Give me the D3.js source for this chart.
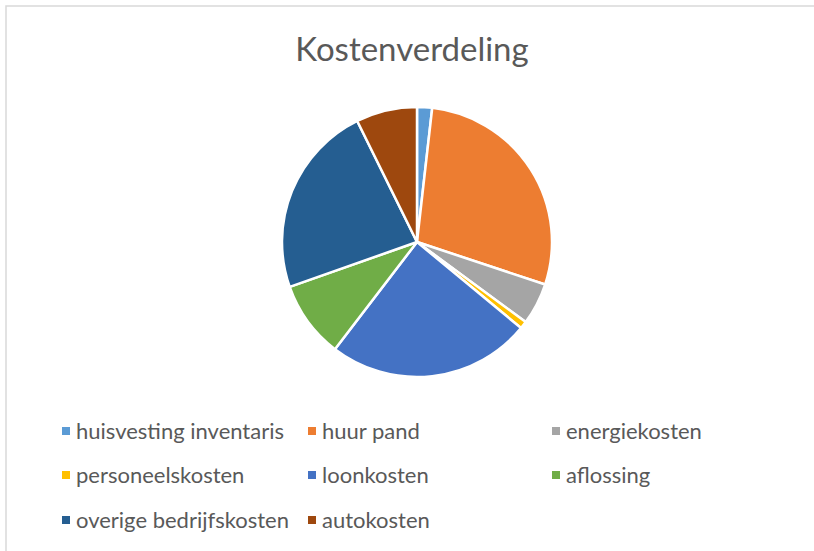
<!DOCTYPE html>
<html lang="nl">
<head>
<meta charset="UTF-8">
<title>Kostenverdeling</title>
<script src="https://d3js.org/d3.v7.min.js"></script>
<style>
  body { margin: 0; background: #fff; }
  svg text { font-family: Lato, "Open Sans", sans-serif; fill: #595959; }
</style>
</head>
<body>
<div id="chart"></div>
<script>
// cost categories and their share (in %)
const categories = ["huisvesting inventaris", "huur pand", "energiekosten", "personeelskosten",
                    "loonkosten", "aflossing", "overige bedrijfskosten", "autokosten"];
const values = [1.8, 28.3, 5.0, 0.9, 24.4, 9.2, 23.1, 7.3];
const colors = ["#5B9BD5", "#ED7D31", "#A5A5A5", "#FFC000", "#4472C4", "#70AD47", "#255E91", "#9E480E"];

const width = 814, height = 551;
const cx = 417, cy = 242, radius = 135;

const svg = d3.select("#chart").append("svg")
    .attr("width", width)
    .attr("height", height);

// chart area border (only top and left are visible in the frame)
svg.append("rect")
    .attr("x", 6).attr("y", 6)
    .attr("width", width + 10).attr("height", height + 10)
    .attr("fill", "#fff")
    .attr("stroke", "#d9d9d9")
    .attr("stroke-width", 1.5);

svg.append("text")
    .attr("x", 412).attr("y", 61)
    .attr("text-anchor", "middle")
    .attr("font-size", 33)
    .text("Kostenverdeling");

const pie = d3.pie().value(d => d.value).sort(null);
const arc = d3.arc().innerRadius(0).outerRadius(radius);
const data = categories.map((c, i) => ({ name: c, value: values[i], color: colors[i] }));

svg.append("g")
    .attr("transform", `translate(${cx},${cy})`)
    .selectAll("path")
    .data(pie(data))
    .join("path")
    .attr("d", arc)
    .attr("fill", d => d.data.color)
    .attr("stroke", "#fff")
    .attr("stroke-width", 2.5)
    .attr("stroke-linejoin", "round");

// legend: 3 columns, 3 rows
const colX = [62, 308, 552];
const rowY = [431, 475, 520];
const legend = svg.append("g")
    .selectAll("g")
    .data(data)
    .join("g")
    .attr("transform", (d, i) => `translate(${colX[i % 3]},${rowY[Math.floor(i / 3)]})`);

legend.append("rect")
    .attr("x", 0).attr("y", -4)
    .attr("width", 8).attr("height", 8)
    .attr("fill", d => d.color);

legend.append("text")
    .attr("x", 14).attr("y", 0)
    .attr("dy", "0.35em")
    .attr("font-size", 22)
    .text(d => d.name);
</script>
</body>
</html>
